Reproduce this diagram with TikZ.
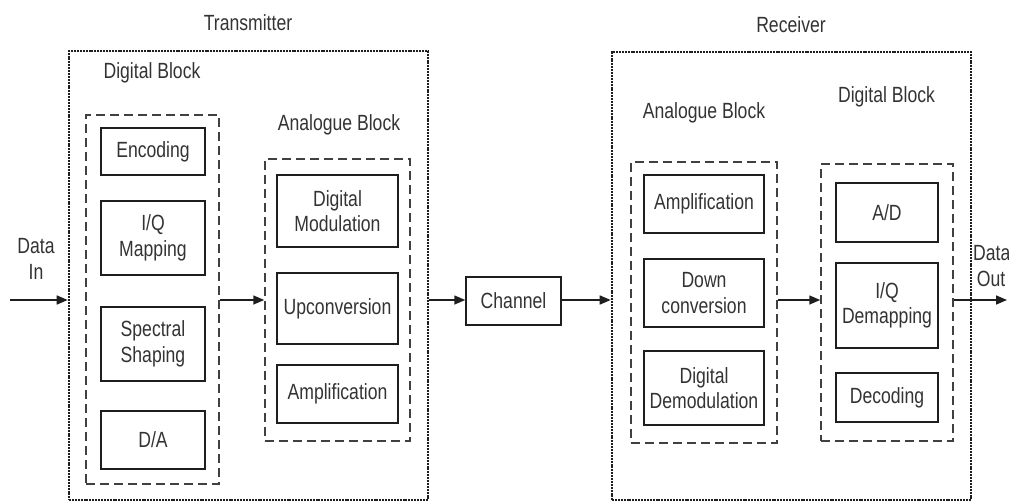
\documentclass[tikz,border=0pt]{standalone}
\usepackage{fontspec}
\setmainfont{Liberation Sans}[FakeStretch=0.8]
\usetikzlibrary{arrows.meta}
\definecolor{ink}{HTML}{1E1E1E}
\definecolor{txt}{HTML}{333333}
\tikzset{
  every node/.style={font=\fontsize{22}{25.5}\selectfont, text=txt},
  outerbox/.style={draw=ink, line width=2.6pt, dash pattern=on 2pt off 0.9pt, inner sep=0pt},
  groupbox/.style={draw=ink!85, line width=1.5pt, dash pattern=on 9pt off 5pt, inner sep=0pt},
  blockbox/.style={draw=ink, line width=1.5pt, inner sep=0pt, align=center},
  lbl/.style={inner sep=0pt, align=center},
  flow/.style={draw=ink, line width=1.5pt, -{Triangle[length=11pt,width=9pt]}}
}
\begin{document}
\begin{tikzpicture}[x=1pt, y=-1pt]
\useasboundingbox (0,0) rectangle (1009,503);
\clip (0,0) rectangle (1009,503);

% ---------------- Transmitter ----------------
\node[outerbox, minimum width=359pt, minimum height=449pt] (tx) at (248.5,275.5) {};
\node[lbl] (txlabel) at (248,23) {Transmitter};

\node[lbl] (txdiglabel) at (152,73) {Digital Block};
\node[groupbox, minimum width=133pt, minimum height=369pt] (txdig) at (152.5,299.5) {};
\node[blockbox, minimum width=104pt, minimum height=47pt] (enc)  at (153,151.5) {Encoding};
\node[blockbox, minimum width=104pt, minimum height=74pt] (iqm)  at (153,238) {I/Q\\Mapping};
\node[blockbox, minimum width=104pt, minimum height=74pt] (spec) at (153,344) {Spectral\\Shaping};
\node[blockbox, minimum width=104pt, minimum height=58pt] (da)   at (153,440) {D/A};

\node[lbl] (txanalabel) at (339,125) {Analogue Block};
\node[groupbox, minimum width=145pt, minimum height=282pt] (txana) at (337.5,300) {};
\node[blockbox, minimum width=121pt, minimum height=72pt] (dmod) at (337.5,211) {Digital\\Modulation};
\node[blockbox, minimum width=121pt, minimum height=71pt] (upc)  at (337.5,308.5) {Upconversion};
\node[blockbox, minimum width=121pt, minimum height=58pt] (amp1) at (337.5,394) {Amplification};

% ---------------- Channel ----------------
\node[blockbox, minimum width=95pt, minimum height=48pt] (chan) at (513.5,301) {Channel};

% ---------------- Receiver ----------------
\node[outerbox, minimum width=359pt, minimum height=448pt] (rx) at (791.5,276) {};
\node[lbl] (rxlabel) at (791,25) {Receiver};

\node[lbl] (rxanalabel) at (704,113) {Analogue Block};
\node[groupbox, minimum width=146pt, minimum height=281pt] (rxana) at (704,302.5) {};
\node[blockbox, minimum width=120pt, minimum height=58pt] (amp2)   at (704,204) {Amplification};
\node[blockbox, minimum width=120pt, minimum height=68pt] (dconv)  at (704,293) {Down\\conversion};
\node[blockbox, minimum width=120pt, minimum height=74pt] (ddemod) at (704,388) {Digital\\Demodulation};

\node[lbl] (rxdiglabel) at (886.5,97) {Digital Block};
\node[groupbox, minimum width=132pt, minimum height=277pt] (rxdig) at (887,302.5) {};
\node[blockbox, minimum width=102pt, minimum height=59pt] (ad)  at (887,212.5) {A/D};
\node[blockbox, minimum width=102pt, minimum height=85pt] (iqd) at (887,305.5) {I/Q\\Demapping};
\node[blockbox, minimum width=102pt, minimum height=49pt] (dec) at (887,397.5) {Decoding};

% ---------------- Data labels ----------------
\node[lbl] (datain) at (36,259) {Data\\In};
\node[lbl, align=left, anchor=west] (dataout) at (973,266) {Data\\\,Out};

% ---------------- Signal flow ----------------
\coordinate (src) at (10,300);
\coordinate (sink) at (1007,300);
\draw[flow] (src) -- (src -| tx.west);
\draw[flow] (txdig.east |- src) -- (txana.west |- src);
\draw[flow] (tx.east |- src) -- (chan.west |- src);
\draw[flow] (chan.east |- src) -- (rx.west |- src);
\draw[flow] (rxana.east |- src) -- (rxdig.west |- src);
\draw[flow] (rxdig.east |- src) -- (sink);
\end{tikzpicture}
\end{document}
